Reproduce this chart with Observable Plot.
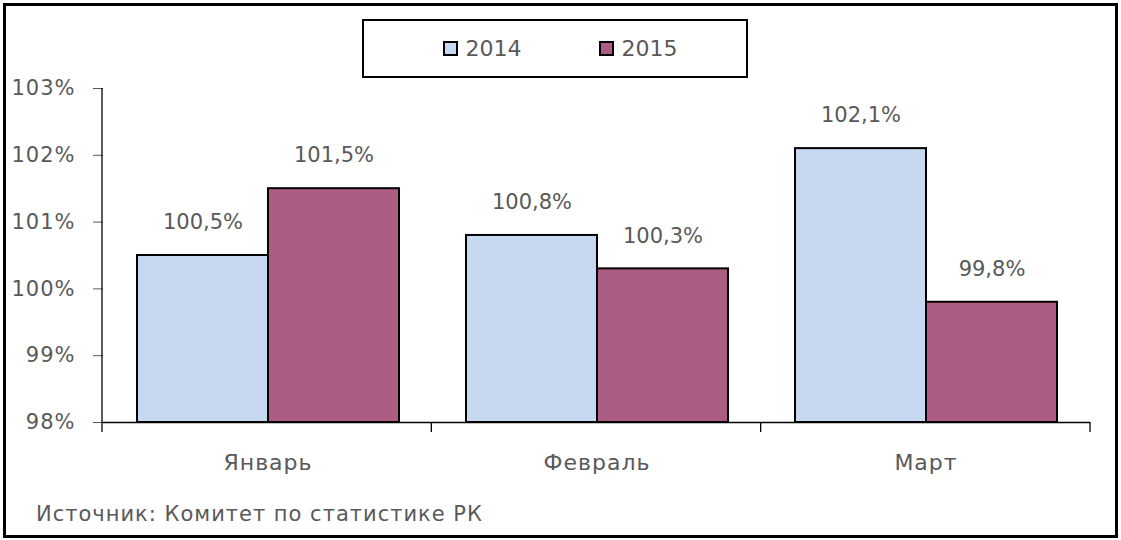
<!DOCTYPE html>
<html>
<head>
<meta charset="utf-8">
<script src="https://cdn.jsdelivr.net/npm/d3@7"></script>
<script src="https://cdn.jsdelivr.net/npm/@observablehq/plot@0.6"></script>
<style>
  html, body { margin: 0; padding: 0; background: #fff; }
  #wrap { position: relative; width: 1121px; height: 540px; background: #fff; overflow: hidden; font-family: "DejaVu Sans", sans-serif; color: #595959; }
  #border { position: absolute; left: 3px; top: 3px; width: 1115px; height: 535px; border: 3px solid #000; box-sizing: border-box; }
  #chart { position: absolute; left: 0; top: 0; }
  #legend { position: absolute; left: 362px; top: 19px; width: 386px; height: 59px; border: 2px solid #000; box-sizing: border-box; background: #fff;
            display: flex; align-items: center; justify-content: center; padding-left: 10px; gap: 77px; font-size: 22px; }
  .item { display: flex; align-items: center; gap: 8px; }
  .sw { width: 15px; height: 15px; border: 2px solid #000; box-sizing: border-box; }
  #source { position: absolute; left: 36px; top: 502px; font-size: 21px; letter-spacing: 1px; white-space: nowrap; }
  #chart g[aria-label="y-axis tick label"] text { letter-spacing: 1px; font-size: 21px; }
  #chart g[aria-label="fx-axis tick label"] text { letter-spacing: 1px; font-size: 22px; }
</style>
</head>
<body>
<div id="wrap">
  <div id="border"></div>
  <div id="chart"></div>
  <div id="legend"></div>
  <div id="source"></div>
</div>
<script>
const months = ["Январь", "Февраль", "Март"];
const years = ["2014", "2015"];
const values2014 = [100.5, 100.8, 102.1];
const values2015 = [101.5, 100.3, 99.8];
const yTicks = [98, 99, 100, 101, 102, 103];
const colors = ["#c6d9f1", "#ad5c83"];
const sourceText = "Источник: Комитет по статистике РК";

const data = months.flatMap((m, i) => [
  {month: m, year: years[0], value: values2014[i]},
  {month: m, year: years[1], value: values2015[i]}
]);
const base = yTicks[0];
const fmt = v => d3.format(".1f")(v).replace(".", ",") + "%";

const chart = Plot.plot({
  width: 1121,
  height: 540,
  marginTop: 88,
  marginBottom: 118,
  marginLeft: 102,
  marginRight: 31,
  style: {fontFamily: "DejaVu Sans, sans-serif", fontSize: "20px", color: "#595959", background: "transparent", overflow: "visible"},
  fx: {domain: months, padding: 0, label: null, axis: "bottom", tickSize: 0, tickPadding: 32},
  x: {domain: years, paddingInner: 0, paddingOuter: 0.255, axis: null},
  y: {domain: [yTicks[0], yTicks[yTicks.length - 1]], ticks: yTicks, tickSize: 10, tickPadding: 18, tickFormat: d => d + "%", label: null},
  color: {domain: years, range: colors},
  marks: [
    Plot.barY(data, {fx: "month", x: "year", y1: base, y2: "value", fill: "year", stroke: "#000", strokeWidth: 2}),
    Plot.text(data, {fx: "month", x: "year", y: "value", text: d => fmt(d.value), dy: -33, fill: "#595959", fontSize: 21}),
    Plot.ruleY([base], {stroke: "#000", strokeWidth: 1.3})
  ]
});
document.getElementById("chart").appendChild(chart);

// axis line and category boundary ticks, from the plot's own scales
const fxs = chart.scale("fx");
const ys = chart.scale("y");
const band = d3.scaleBand(fxs.domain, fxs.range).paddingInner(0).paddingOuter(0);
const bounds = fxs.domain.map(m => band(m)).concat([band(fxs.domain[fxs.domain.length - 1]) + band.bandwidth()]);
const yBase = ys.apply(base);
const yTop = ys.apply(yTicks[yTicks.length - 1]);
const g = d3.select(chart).append("g").attr("stroke", "#000").attr("stroke-width", 1.3);
g.append("line").attr("x1", bounds[0]).attr("x2", bounds[0]).attr("y1", yTop).attr("y2", yBase);
g.selectAll("line.tk").data(bounds).join("line").attr("class", "tk")
  .attr("x1", d => d).attr("x2", d => d).attr("y1", yBase).attr("y2", yBase + 10);

// legend
const legend = d3.select("#legend");
years.forEach((y, i) => {
  const it = legend.append("div").attr("class", "item");
  it.append("div").attr("class", "sw").style("background", colors[i]);
  it.append("span").text(y);
});
document.getElementById("source").textContent = sourceText;
</script>
</body>
</html>
